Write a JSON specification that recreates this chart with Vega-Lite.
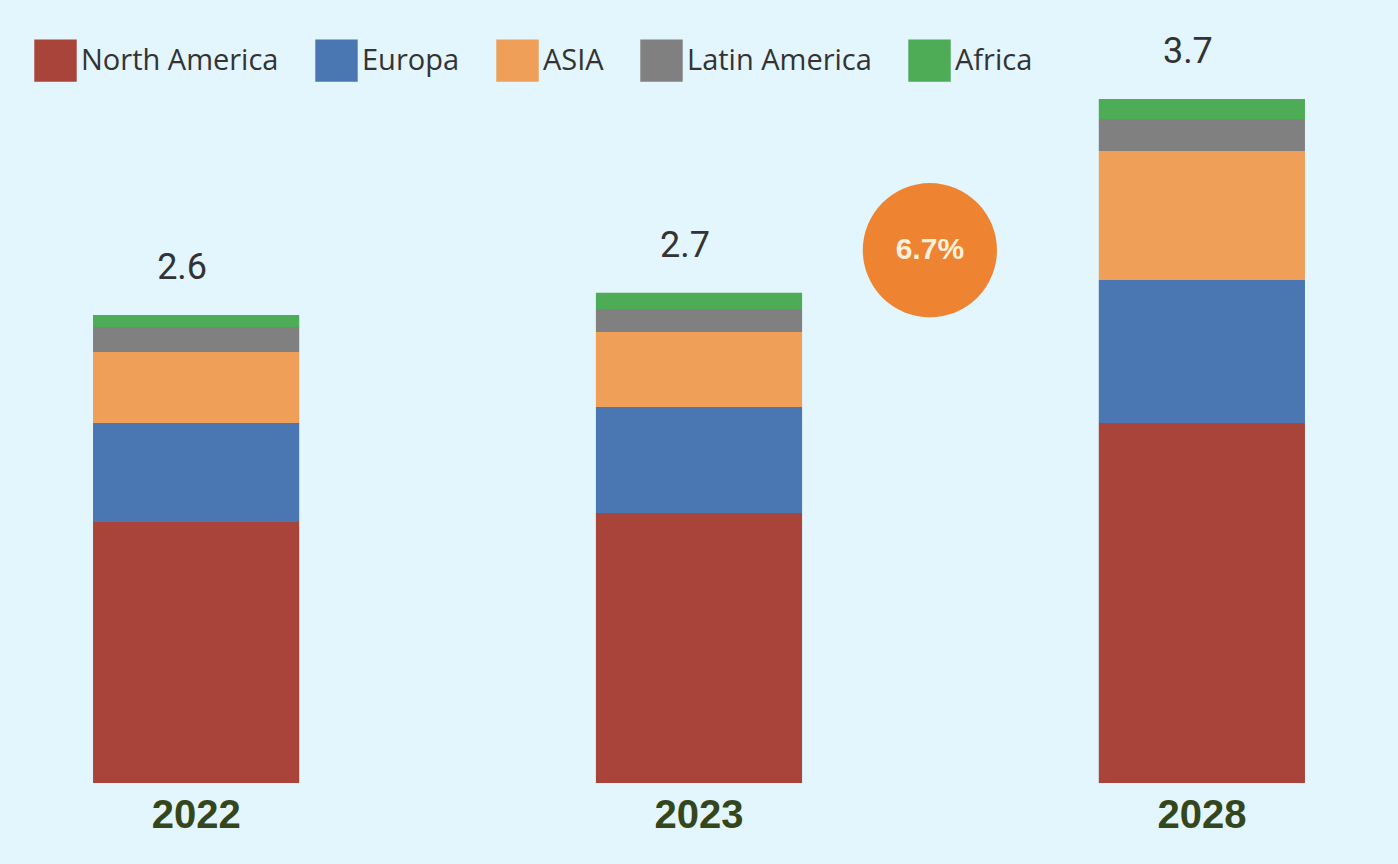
{
  "$schema": "https://vega.github.io/schema/vega-lite/v6.json",
  "width": 1398,
  "height": 684,
  "autosize": {"type": "none"},
  "padding": {"top": 99, "left": 0, "right": 0, "bottom": 81},
  "background": "#e3f5fd",
  "config": {"view": {"stroke": null}},
  "datasets": {
    "regions": [
      {"year": "2022", "region": "North America", "value": 1.45},
      {"year": "2022", "region": "Europa", "value": 0.55},
      {"year": "2022", "region": "ASIA", "value": 0.394},
      {"year": "2022", "region": "Latin America", "value": 0.139},
      {"year": "2022", "region": "Africa", "value": 0.067},
      {"year": "2023", "region": "North America", "value": 1.5},
      {"year": "2023", "region": "Europa", "value": 0.589},
      {"year": "2023", "region": "ASIA", "value": 0.417},
      {"year": "2023", "region": "Latin America", "value": 0.128},
      {"year": "2023", "region": "Africa", "value": 0.089},
      {"year": "2028", "region": "North America", "value": 2.0},
      {"year": "2028", "region": "Europa", "value": 0.794},
      {"year": "2028", "region": "ASIA", "value": 0.717},
      {"year": "2028", "region": "Latin America", "value": 0.178},
      {"year": "2028", "region": "Africa", "value": 0.111}
    ],
    "totals": [
      {"year": "2022", "top": 2.6, "label": "2.6"},
      {"year": "2023", "top": 2.72, "label": "2.7"},
      {"year": "2028", "top": 3.8, "label": "3.7"}
    ],
    "cagr": [
      {"year": "2028", "y": 2.96, "label": "6.7%"}
    ]
  },
  "encoding": {
    "x": {
      "field": "year",
      "type": "nominal",
      "scale": {"domain": ["2022", "2023", "2028"], "paddingInner": 0.59, "paddingOuter": 0.185},
      "axis": {
        "title": null,
        "domain": false,
        "ticks": false,
        "labelAngle": 0,
        "labelFont": "Liberation Sans",
        "labelFontWeight": "bold",
        "labelFontSize": 40,
        "labelColor": "#34471c",
        "labelPadding": 12
      }
    }
  },
  "layer": [
    {
      "data": {"name": "regions"},
      "mark": {"type": "bar"},
      "encoding": {
        "y": {
          "field": "value",
          "type": "quantitative",
          "stack": "zero",
          "scale": {"domain": [0, 3.8], "nice": false, "zero": true},
          "axis": null
        },
        "color": {
          "field": "region",
          "type": "nominal",
          "sort": ["North America", "Europa", "ASIA", "Latin America", "Africa"],
          "scale": {
            "domain": ["North America", "Europa", "ASIA", "Latin America", "Africa"],
            "range": ["#a8443a", "#4a77b2", "#f09f58", "#808080", "#4dac55"]
          },
          "legend": {
            "title": null,
            "orient": "none",
            "direction": "horizontal",
            "legendX": 34,
            "legendY": -60,
            "symbolType": "square",
            "symbolSize": 1800,
            "symbolStrokeWidth": 0,
            "symbolOpacity": 1,
            "labelFont": "Open Sans",
            "labelFontSize": 29,
            "labelColor": "#333333",
            "labelOffset": 4,
            "labelLimit": 400,
            "columnPadding": 36
          }
        },
        "order": {"field": "value", "type": "quantitative", "sort": "descending"}
      }
    },
    {
      "data": {"name": "totals"},
      "mark": {"type": "text", "dy": -47, "dx": -14, "baseline": "middle", "font": "Roboto", "fontSize": 36, "color": "#333333"},
      "encoding": {
        "y": {"field": "top", "type": "quantitative"},
        "text": {"field": "label"}
      }
    },
    {
      "data": {"name": "cagr"},
      "mark": {"type": "point", "filled": true, "shape": "circle", "size": 18000, "color": "#ee8431", "opacity": 1, "xOffset": -272},
      "encoding": {
        "y": {"field": "y", "type": "quantitative"}
      }
    },
    {
      "data": {"name": "cagr"},
      "mark": {"type": "text", "dx": -272, "baseline": "middle", "font": "Liberation Sans", "fontWeight": "bold", "fontSize": 30, "color": "#fdf1dc"},
      "encoding": {
        "y": {"field": "y", "type": "quantitative"},
        "text": {"field": "label"}
      }
    }
  ]
}
